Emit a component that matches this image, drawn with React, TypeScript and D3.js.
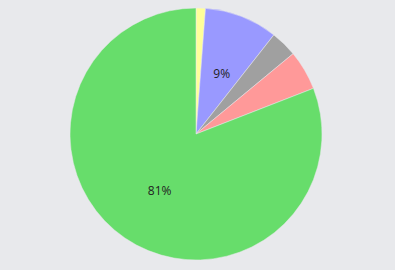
import React from "react";
import * as d3 from "d3";

const labels = ["A", "B", "C", "D", "E"];
const values = [1.2, 9.4, 3.4, 5.1, 80.9];
const colors = ["#ffff99", "#9999ff", "#a0a0a0", "#ff9999", "#67dd6b"];

export default function App() {
  const W = 395, H = 270;
  const cx = 196, cy = 134, R = 126;
  const total = d3.sum(values);
  const pie = d3.pie<number>().sort(null).value((d) => d)(values);
  const arc = d3.arc<d3.PieArcDatum<number>>().innerRadius(0).outerRadius(R);
  const lab = d3.arc<d3.PieArcDatum<number>>().innerRadius(134).outerRadius(0);
  return (
    <svg width={W} height={H} style={{ position: "absolute", left: 0, top: 0 }}>
      <rect width={W} height={H} fill="#e8e9ec" />
      <g transform={`translate(${cx},${cy})`}>
        {pie.map((p, i) => (
          <path key={labels[i]} d={arc(p) || ""} fill={colors[i]} stroke="#e8e9ec" strokeWidth={0.5} />
        ))}
        {pie.map((p, i) => {
          const pct = (values[i] / total) * 100;
          if (pct < 8) return null;
          const [x, y] = lab.centroid(p);
          return (
            <text key={"t" + i} x={x + 1.5} y={y + 1.5} textAnchor="middle" dominantBaseline="central"
              fontFamily="'Open Sans', sans-serif" fontSize={12} fill="#222">
              {Math.round(pct)}%
            </text>
          );
        })}
      </g>
    </svg>
  );
}
